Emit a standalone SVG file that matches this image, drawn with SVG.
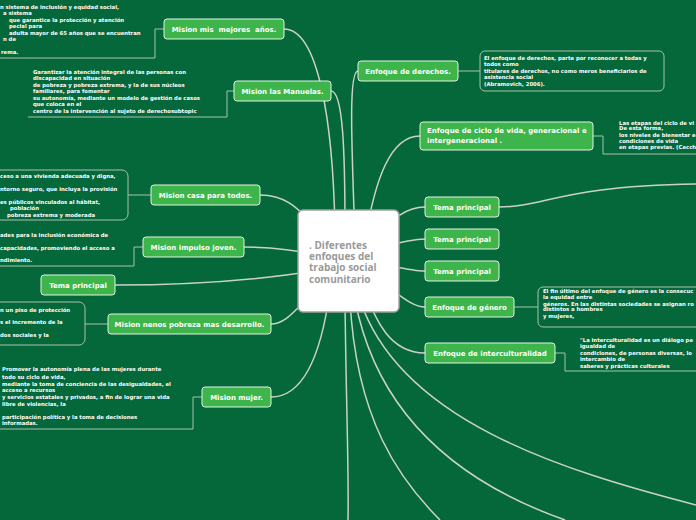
<svg xmlns="http://www.w3.org/2000/svg" width="696" height="520" viewBox="0 0 696 520">
<style>
.bg{fill:#05683a}
.n rect{fill:#3db54a;stroke:#e4f2e4;stroke-width:1}
.n text{font-family:"DejaVu Sans",sans-serif;font-weight:bold;font-size:7px;fill:#ffffff;text-anchor:middle;white-space:pre}
.c{fill:none;stroke:#c9d2c9;stroke-width:1.5}
.s{fill:none;stroke:#a9c2ad;stroke-width:1}
.t{font-family:"DejaVu Sans",sans-serif;font-weight:bold;font-size:5.3px;fill:#ffffff}
.center rect{fill:#ffffff;stroke:#a0a0a0;stroke-width:1.5}
.center text{font-family:"Open Sans",sans-serif;font-weight:bold;font-size:10px;fill:#9a9a9a}
</style>
<rect class="bg" x="0" y="0" width="696" height="520"/>
<g id="connectors">
<path class="c" d="M284,29 C318,29 333,120 335,230"/>
<path class="c" d="M331,91 C343,91 345,150 345,230"/>
<path class="c" d="M260,195 C290,195 300,212 330,240"/>
<path class="c" d="M244,247 C270,247 295,250 320,255"/>
<path class="c" d="M115,285 C200,285 260,280 320,270"/>
<path class="c" d="M271,324 C290,324 300,300 320,290"/>
<path class="c" d="M271,397 C305,397 322,350 330,290"/>
<path class="c" d="M358,71 C348,71 352,150 355,240"/>
<path class="c" d="M420,136 C390,136 375,180 365,240"/>
<path class="c" d="M425,207 C405,207 392,220 370,240"/>
<path class="c" d="M425,239 C410,239 390,245 370,250"/>
<path class="c" d="M425,271 C410,271 390,265 370,262"/>
<path class="c" d="M425,307 C410,307 395,290 370,275"/>
<path class="c" d="M425,353 C390,353 375,320 365,290"/>
<path class="c" d="M345,300 C346,400 349,470 348,520"/>
<path class="c" d="M350,300 C356,420 400,480 440,520"/>
<path class="c" d="M355,300 C380,430 480,490 565,520"/>
<path class="c" d="M360,300 C400,420 560,470 696,505"/>
<path class="c" d="M499,207 C545,207 560,186 696,184"/>
<path class="s" d="M164,29 H155 V58 H0"/>
<path class="s" d="M234,91 H227 V117 H28"/>
<path class="s" d="M151,195 H128"/>
<path class="s" d="M143,247 H134 V266 H0"/>
<path class="s" d="M108,324 H85"/>
<path class="s" d="M202,397 H193 V429 H0"/>
<path class="s" d="M458,71 H480"/>
<path class="s" d="M593,136 H603 V154 H696"/>
<path class="s" d="M514,307 H538"/>
<path class="s" d="M555,353 H565 V371 H696"/>
</g>
<g id="sub-mejores">
<text class="t" x="0" y="9">n sistema de inclusión y equidad social,</text>
<text class="t" x="3" y="15">a sistema</text>
<text class="t" x="9" y="22">que garantice la protección y atención</text>
<text class="t" x="9" y="28">pecial para</text>
<text class="t" x="9" y="35">adulta mayor de 65 años que se encuentran</text>
<text class="t" x="3" y="41">n de</text>
<text class="t" x="1" y="54">rema.</text>
</g>
<g id="sub-manuelas">
<text class="t" x="33" y="74">Garantizar la atención integral de las personas con</text>
<text class="t" x="33" y="80">discapacidad en situación</text>
<text class="t" x="33" y="87">de pobreza y pobreza extrema, y la de sus núcleos</text>
<text class="t" x="33" y="93">familiares, para fomentar</text>
<text class="t" x="33" y="100">su autonomía, mediante un modelo de gestión de casos</text>
<text class="t" x="33" y="106">que coloca en el</text>
<text class="t" x="33" y="113">centro de la intervención al sujeto de derechosubtopic</text>
</g>
<g id="sub-casa">
<rect x="-10" y="170" width="138" height="50" rx="6" fill="none" stroke="#a9c2ad" stroke-width="1"/>
<text class="t" x="0" y="178">ceso a una vivienda adecuada y digna,</text>
<text class="t" x="0" y="191">ntorno seguro, que incluya la provisión</text>
<text class="t" x="0" y="204">es públicos vinculados al hábitat,</text>
<text class="t" x="10" y="210">población</text>
<text class="t" x="7" y="217">pobreza extrema y moderada</text>
</g>
<g id="sub-impulso">
<text class="t" x="0" y="237">ades para la inclusión económica de</text>
<text class="t" x="0" y="250">capacidades, promoviendo el acceso a</text>
<text class="t" x="0" y="262">ndimiento.</text>
</g>
<g id="sub-nenos">
<rect x="-10" y="302" width="95" height="43" rx="6" fill="none" stroke="#a9c2ad" stroke-width="1"/>
<text class="t" x="0" y="312">n un piso de protección</text>
<text class="t" x="0" y="324">s el incremento de la</text>
<text class="t" x="0" y="337">dos sociales y la</text>
</g>
<g id="sub-mujer">
<text class="t" x="2" y="371">Promover la autonomía plena de las mujeres durante</text>
<text class="t" x="2" y="379">todo su ciclo de vida,</text>
<text class="t" x="2" y="386">mediante la toma de conciencia de las desigualdades, el</text>
<text class="t" x="2" y="392">acceso a recursos</text>
<text class="t" x="2" y="399">y servicios estatales y privados, a fin de lograr una vida</text>
<text class="t" x="2" y="406">libre de violencias, la</text>
<text class="t" x="2" y="419">participación política y la toma de decisiones</text>
<text class="t" x="2" y="425">informadas.</text>
</g>
<g id="sub-derechos">
<rect x="480" y="51" width="184" height="40" rx="5" fill="none" stroke="#a9c2ad" stroke-width="1"/>
<text class="t" x="484" y="60">El enfoque de derechos, parte por reconocer a todas y</text>
<text class="t" x="484" y="66">todos como</text>
<text class="t" x="484" y="73">titulares de derechos, no como meros beneficiarios de</text>
<text class="t" x="484" y="79">asistencia social</text>
<text class="t" x="484" y="86">(Abramovich, 2006).</text>
</g>
<g id="sub-ciclo">
<text class="t" x="619" y="125">Las etapas del ciclo de vi</text>
<text class="t" x="619" y="130">De esta forma,</text>
<text class="t" x="619" y="137">los niveles de bienestar e</text>
<text class="t" x="619" y="143">condiciones de vida</text>
<text class="t" x="619" y="149">en etapas previas. (Cecch</text>
</g>
<g id="sub-genero">
<rect x="538" y="287" width="170" height="40" rx="5" fill="none" stroke="#a9c2ad" stroke-width="1"/>
<text class="t" x="543" y="293">El fin último del enfoque de género es la consecuc</text>
<text class="t" x="543" y="299">la equidad entre</text>
<text class="t" x="543" y="306">géneros. En las distintas sociedades se asignan ro</text>
<text class="t" x="543" y="311">distintos a hombres</text>
<text class="t" x="543" y="318">y mujeres,</text>
</g>
<g id="sub-intercult">
<text class="t" x="580" y="342">"La interculturalidad es un diálogo pe</text>
<text class="t" x="580" y="348">igualdad de</text>
<text class="t" x="580" y="355">condiciones, de personas diversas, lo</text>
<text class="t" x="580" y="361">intercambio de</text>
<text class="t" x="580" y="368">saberes y prácticas culturales</text>
</g>
<g id="center" class="center">
<rect x="298" y="210" width="101" height="102" rx="5"/>
<text x="309" y="249">. Diferentes</text>
<text x="309" y="260.2">enfoques del</text>
<text x="309" y="271.4">trabajo social</text>
<text x="309" y="282.6">comunitario</text>
</g>
<g id="n-mejores" class="n"><rect x="164" y="19" width="120" height="20" rx="3"/><text x="224" y="32">Mision mis  mejores  años.</text></g>
<g id="n-manuelas" class="n"><rect x="234" y="81" width="97" height="20" rx="3"/><text x="282.5" y="94">Mision las Manuelas.</text></g>
<g id="n-casa" class="n"><rect x="151" y="185" width="109" height="20" rx="3"/><text x="205.5" y="198">Mision casa para todos.</text></g>
<g id="n-impulso" class="n"><rect x="143" y="237" width="101" height="20" rx="3"/><text x="193.5" y="250">Mision impulso joven.</text></g>
<g id="n-tema-left" class="n"><rect x="41" y="275" width="74" height="20" rx="3"/><text x="78" y="288">Tema principal</text></g>
<g id="n-nenos" class="n"><rect x="108" y="314" width="163" height="20" rx="3"/><text x="189.5" y="327">Mision nenos pobreza mas desarrollo.</text></g>
<g id="n-mujer" class="n"><rect x="202" y="387" width="69" height="20" rx="3"/><text x="236.5" y="400">Mision mujer.</text></g>
<g id="n-derechos" class="n"><rect x="358" y="61" width="100" height="20" rx="3"/><text x="408" y="74">Enfoque de derechos.</text></g>
<g id="n-ciclo" class="n"><rect x="420" y="122" width="173" height="28" rx="3"/><text x="427" y="133" style="text-anchor:start">Enfoque de ciclo de vida, generacional e</text><text x="427" y="143" style="text-anchor:start">intergeneracional .</text></g>
<g id="n-tema1" class="n"><rect x="425" y="197" width="74" height="20" rx="3"/><text x="462" y="210">Tema principal</text></g>
<g id="n-tema2" class="n"><rect x="425" y="229" width="74" height="20" rx="3"/><text x="462" y="242">Tema principal</text></g>
<g id="n-tema3" class="n"><rect x="425" y="261" width="74" height="20" rx="3"/><text x="462" y="274">Tema principal</text></g>
<g id="n-genero" class="n"><rect x="425" y="297" width="89" height="20" rx="3"/><text x="469.5" y="310">Enfoque de género</text></g>
<g id="n-intercult" class="n"><rect x="425" y="343" width="130" height="20" rx="3"/><text x="490" y="356">Enfoque de interculturalidad</text></g>
</svg>
